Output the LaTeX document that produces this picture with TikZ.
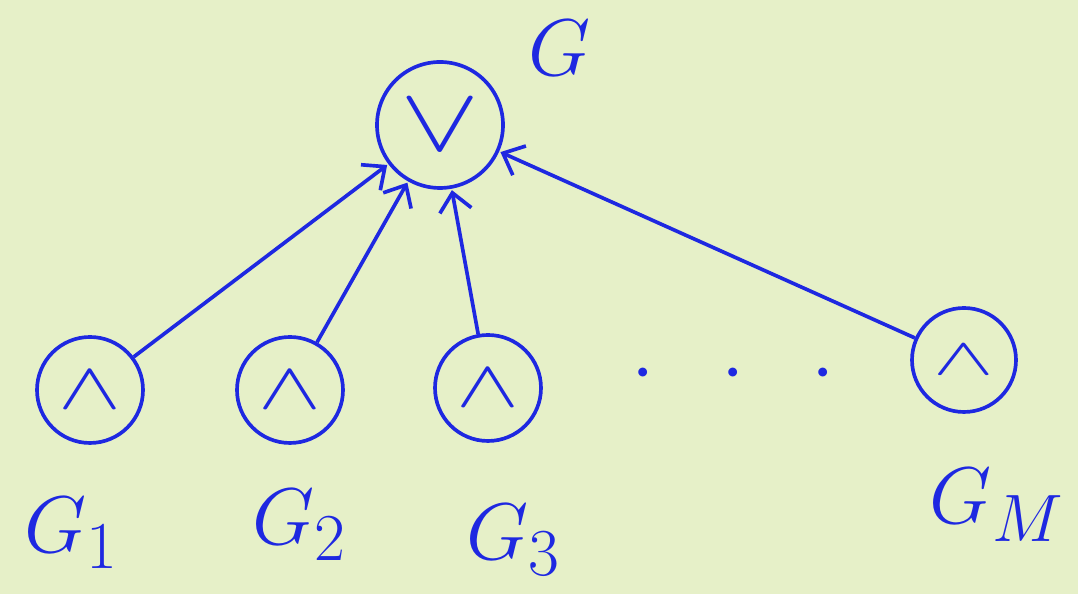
\documentclass[tikz,border=0pt]{standalone}
\usepackage{amsmath, amssymb}
\usepackage{graphicx}
\usepackage{tikz}
\usetikzlibrary{arrows.meta,positioning,calc}
\usepackage{xcolor}
\definecolor{fundo}{RGB}{230,240,200}
\definecolor{tinta}{RGB}{30,40,225}
\newcommand{\grande}[3]{\scalebox{#1}[#2]{$#3$}}

\begin{document}
\begin{tikzpicture}[
        gate/.style={draw=tinta, circle, line width=2.6pt, text=tinta, inner sep=0pt, font=\fontsize{24.88}{28}\selectfont},
        rotulo/.style={text=tinta, font=\fontsize{24.88}{28}\selectfont},
        arr/.style={-{Straight Barb[length=4.5mm, width=8mm, line width=2.6pt]}, line width=2.6pt, tinta, shorten >=1pt}
    ]

        \fill[fundo] (0,0) rectangle (26.95,14.85);
        \useasboundingbox (0,0) rectangle (26.95,14.85);

        \node[gate, minimum size=3.15cm] (ou) at (11.0,11.725) {\grande{3.4}{2.6}{\vee}};
        \node[gate, minimum size=2.65cm] (e1) at (2.25,5.1) {\grande{2.7}{1.9}{\wedge}};
        \node[gate, minimum size=2.65cm] (e2) at (7.25,5.1) {\grande{2.7}{1.9}{\wedge}};
        \node[gate, minimum size=2.65cm] (e3) at (12.2,5.15) {\grande{2.7}{1.9}{\wedge}};
        \node[gate, minimum size=2.6cm] (em) at (24.1,5.85) {\grande{2.6}{1.5}{\wedge}};

        \node[rotulo] (pontos) at (18.325,5.475) {\grande{2.4}{2.4}{\cdot\hspace{0.5cm}\cdot\hspace{0.5cm}\cdot}};

        \node[rotulo] (g) at (14.0,13.65) {\grande{2.3}{2.3}{G}};
        \node[rotulo] (g1) at (1.8,1.525) {\grande{2.3}{2.3}{G_1}};
        \node[rotulo] (g2) at (7.5,1.725) {\grande{2.3}{2.3}{G_2}};
        \node[rotulo] (g3) at (12.85,1.35) {\grande{2.3}{2.3}{G_3}};
        \node[rotulo] (gm) at (24.925,2.225) {\grande{2.3}{2.3}{G_M}};

        \draw[arr] (e1) -- (ou);
        \draw[arr] (e2) -- (ou);
        \draw[arr] (e3) -- (ou);
        \draw[arr] (em) -- (ou);

    \end{tikzpicture}
\end{document}
